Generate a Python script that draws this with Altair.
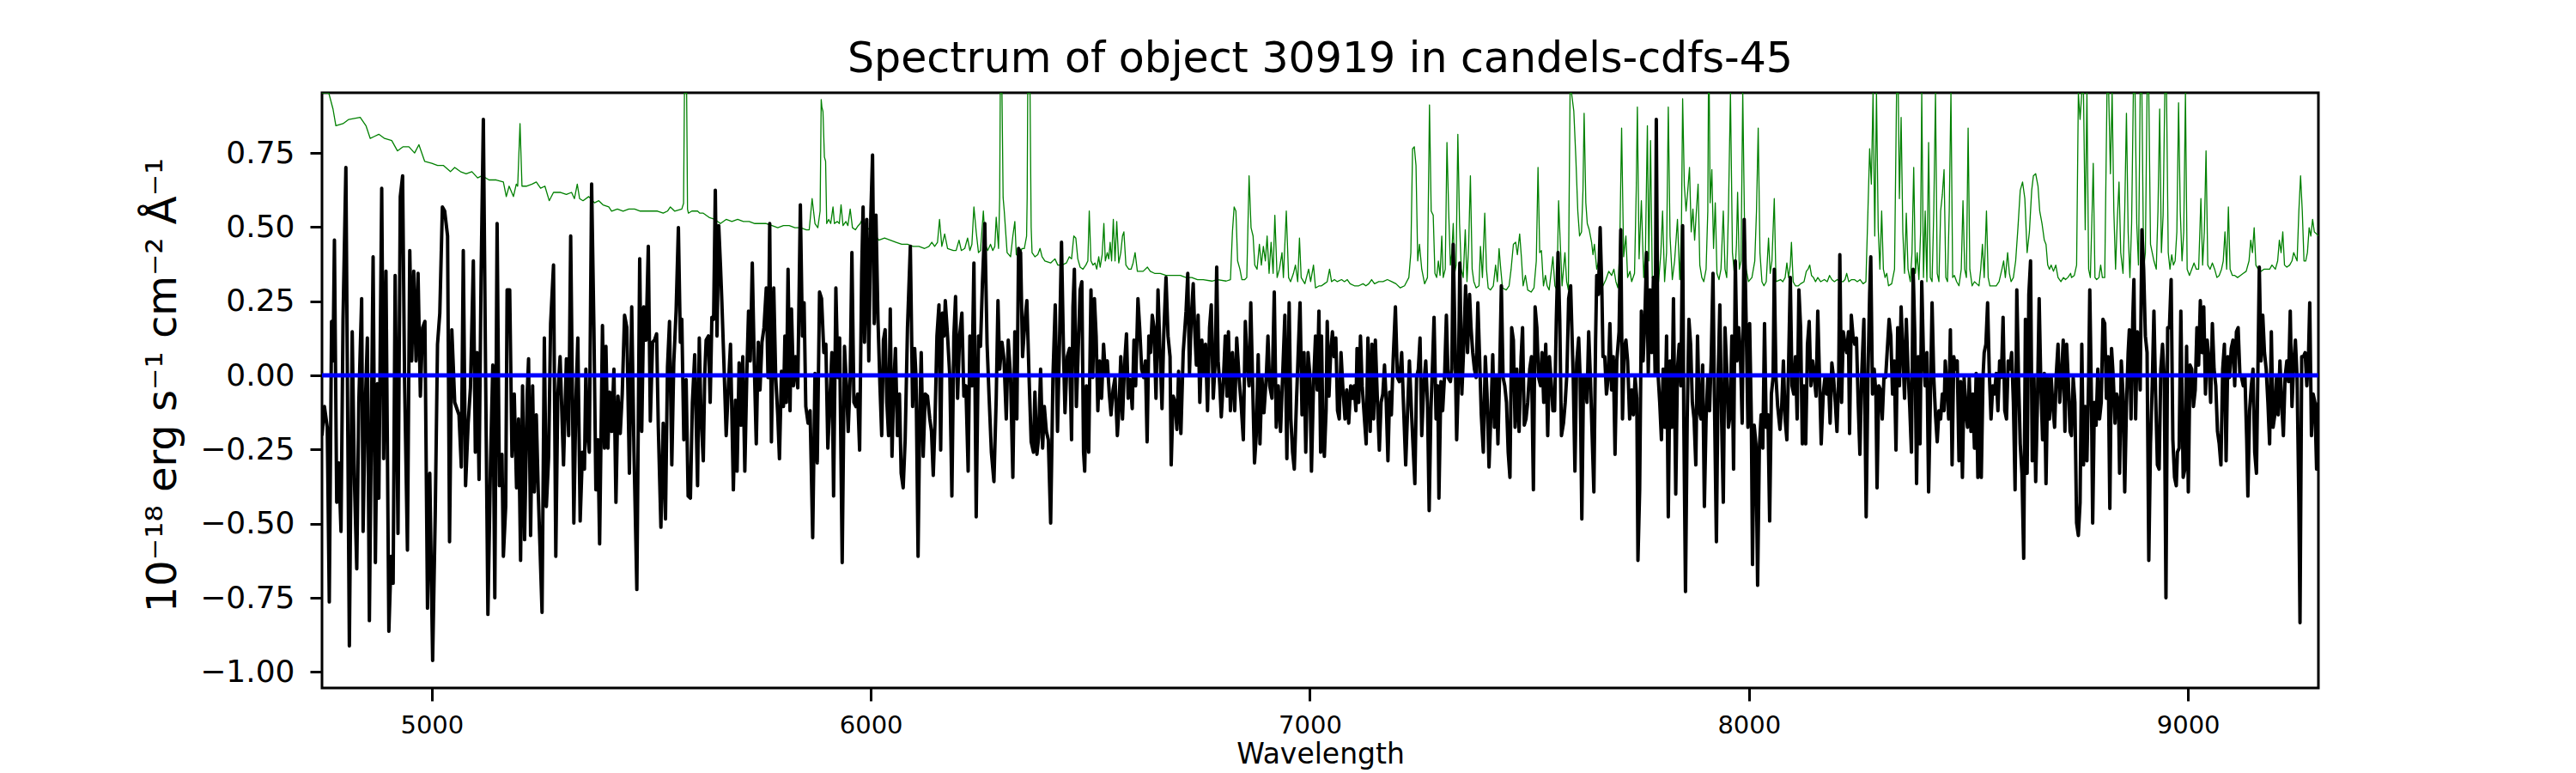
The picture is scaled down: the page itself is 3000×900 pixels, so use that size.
import altair as alt
import pandas as pd

# ---- black: observed spectrum (wavelength [A], flux [1e-18 erg/s/cm2/A]) ----
black_a = [(4750.0,-0.203),(4755.5,-0.105),(4762.0,-0.175),(4766.6,-0.764),(4771.8,0.182),(4775.1,0.049),(4778.3,0.456),(4783.5,-0.428),(4788.1,-0.295),(4793.3,-0.526),
(4797.9,0.189),(4804.4,0.701),(4812.3,-0.912),(4818.8,0.147),(4824.0,-0.365),(4829.2,-0.652),(4833.8,-0.091),(4840.3,0.259),(4843.6,-0.526),(4848.8,-0.091),
(4853.3,0.126),(4857.9,-0.827),(4866.4,0.400),(4871.6,-0.631),(4876.2,-0.028),(4879.4,-0.414),(4886.0,0.631),(4890.5,-0.281),(4895.7,0.351),(4902.3,-0.863),
(4907.5,-0.610),(4912.0,-0.701),(4916.6,0.337),(4923.1,-0.533),(4928.3,0.603),(4933.6,0.673),(4938.1,-0.021),(4944.6,-0.589),(4949.9,0.421),(4954.4,0.049),
(4959.0,0.351),(4964.2,0.049),(4968.8,0.344),(4974.0,-0.070),(4979.2,0.161),(4984.4,0.182),(4990.3,-0.785),(4995.5,-0.330),(5002.0,-0.961),(5007.9,-0.470),
(5013.1,0.105),(5018.3,0.210),(5024.2,0.568),(5029.4,0.554),(5036.0,0.470),(5040.5,-0.561),(5045.7,0.154),(5052.3,-0.091),(5062.0,-0.133),(5067.3,-0.309),
(5071.8,0.421),(5077.0,-0.372),(5082.9,-0.161),(5088.1,-0.042),(5094.7,0.386),(5099.2,-0.259),(5103.1,0.077),(5107.7,-0.351),(5112.3,0.330),(5117.5,0.863),
(5122.7,-0.007),(5127.9,-0.806),(5133.8,-0.295),(5139.0,0.035),(5143.6,-0.750),(5148.8,0.512),(5154.0,-0.372),(5159.9,-0.266),(5163.1,-0.610),(5168.4,-0.442),
(5171.6,0.288),(5177.5,0.288),(5182.7,-0.273),(5187.9,-0.063),(5193.1,-0.379),(5197.7,-0.147),(5202.3,-0.624),(5206.8,-0.035),(5211.4,-0.554),(5217.3,-0.063),
(5220.5,0.056),(5225.1,-0.540),(5229.7,-0.035),(5233.6,-0.393),(5238.1,-0.133),(5242.7,-0.400),(5251.2,-0.799),(5256.4,0.126),(5261.0,-0.442),(5266.2,-0.273),
(5270.7,0.175),(5277.3,0.372),(5282.5,-0.610),(5287.0,-0.070),(5292.3,0.063),(5300.1,-0.302),(5306.6,0.056),(5311.8,-0.203),(5316.4,0.470)]

black_b = [(5323.6,-0.498),(5328.2,-0.091),(5332.7,0.126),(5338.0,-0.491),(5343.2,-0.259),(5347.8,-0.316),(5351.0,0.021),(5354.3,-0.189),(5358.8,-0.259),(5364.1,0.645),
(5369.3,0.161),(5373.8,-0.386),(5378.4,-0.217),(5382.3,-0.568),(5388.8,0.168),(5393.4,-0.245),(5396.7,0.098),(5401.2,-0.245),(5405.1,-0.056),(5409.7,-0.189),
(5414.9,0.021),(5419.5,-0.428),(5424.1,-0.070),(5429.3,-0.196),(5433.8,-0.063),(5439.1,0.203),(5444.3,0.161),(5450.1,-0.330),(5455.4,0.231),(5460.6,-0.259),
(5467.1,-0.722),(5473.6,0.393),(5478.2,-0.189),(5482.8,0.231),(5488.0,0.119),(5493.2,0.435),(5497.8,-0.154),(5503.0,0.112),(5507.5,0.119),(5512.1,0.140),
(5516.0,-0.175),(5521.9,-0.512),(5527.1,-0.161),(5532.3,-0.484),(5536.9,0.028),(5541.5,0.182),(5546.7,-0.302),(5551.2,0.042),(5556.5,0.217),(5561.7,0.498),
(5566.2,0.112),(5569.5,0.189),(5574.1,-0.217),(5579.3,-0.014),(5583.9,-0.407),(5589.1,-0.414),(5593.6,-0.091),(5598.9,0.070),(5605.4,-0.372),(5609.3,0.126),
(5613.2,-0.133),(5618.4,-0.288),(5621.7,0.000),(5624.9,0.119),(5630.2,0.133),(5634.1,-0.091),(5638.0,0.196),(5641.9,0.189),(5645.8,0.624),(5649.7,0.133),
(5653.6,0.505),(5657.5,0.372),(5660.8,0.245),(5665.4,0.042),(5670.6,-0.203),(5675.8,-0.028),(5680.4,0.105),(5686.9,-0.386),(5691.5,-0.084),(5695.4,-0.323),
(5700.0,0.042),(5704.5,-0.168),(5708.4,0.063),(5713.0,-0.323),(5717.6,0.007),(5721.5,0.217),(5725.4,0.049),(5730.0,0.379),(5734.5,0.042),(5739.1,-0.231),
(5743.6,0.112),(5747.6,-0.049),(5752.1,0.112),(5756.7,0.161),(5761.9,0.295),(5765.8,-0.007),(5769.7,0.512),(5773.6,-0.224),(5778.9,0.295),(5783.4,-0.007),
(5788.0,-0.133),(5791.9,-0.281),(5796.5,0.014),(5801.0,-0.105),(5804.3,0.133),(5807.6,-0.091),(5811.5,0.358),(5816.0,-0.119),(5819.3,0.224),(5823.9,-0.035),
(5828.4,0.063),(5833.6,-0.042),(5839.5,0.575),(5844.1,0.133),(5848.0,0.245),(5851.9,-0.105),(5857.1,-0.161),(5861.7,-0.119),(5867.6,-0.547),(5872.8,0.007),
(5878.0,-0.295),(5883.2,0.281)]

black_c = [(5887.8,0.259),(5893.0,0.077),(5897.6,0.105),(5902.1,-0.245),(5907.4,-0.063),(5911.3,0.077),(5915.2,-0.407),(5920.4,0.295),(5925.0,-0.007),(5928.9,0.126),
(5934.8,-0.631),(5940.0,0.098),(5944.5,-0.035),(5948.5,-0.189),(5953.0,-0.007),(5956.9,0.414),(5961.5,-0.091),(5966.1,-0.105),(5970.0,-0.063),(5974.5,-0.252),
(5979.1,0.344),(5982.4,0.568),(5985.6,0.112),(5990.8,0.526),(5995.4,0.049),(6000.0,0.540),(6003.9,0.743),(6007.8,0.175),(6011.7,0.540),(6016.3,0.189),
(6020.8,-0.035),(6024.8,-0.203),(6028.7,0.119),(6032.6,0.154),(6036.5,-0.091),(6040.4,-0.203),(6044.3,0.224),(6048.2,-0.273),(6052.2,-0.035),(6056.1,0.091),
(6060.6,-0.203),(6065.2,-0.063),(6069.1,-0.330),(6073.7,-0.379),(6078.2,-0.217),(6083.5,0.161),(6090.0,0.435),(6095.2,-0.105),(6099.8,0.091),(6103.0,-0.007),
(6107.6,-0.610),(6111.5,-0.133),(6114.8,0.077),(6119.3,-0.273),(6123.9,-0.063),(6129.1,-0.070),(6134.3,-0.147),(6138.2,-0.189),(6142.2,-0.337),(6146.1,-0.161),
(6150.6,0.133),(6155.2,0.238),(6159.1,-0.252),(6163.0,0.210),(6166.9,0.133),(6169.6,0.252),(6174.8,0.133),(6180.0,-0.007),(6184.6,-0.407),(6189.1,0.133),
(6193.0,0.266),(6197.6,-0.077),(6202.2,0.133),(6207.4,0.210),(6211.9,-0.070),(6216.5,-0.035),(6221.7,-0.323),(6225.6,0.133),(6230.2,-0.035),(6234.8,0.379),
(6240.0,-0.477),(6245.2,0.133),(6249.8,0.098),(6254.3,0.316),(6259.6,0.512),(6264.8,0.105),(6269.3,-0.070),(6274.6,-0.259),(6280.4,-0.358),(6285.6,-0.077),
(6289.6,0.252),(6293.5,0.021),(6298.7,0.112),(6303.3,0.056),(6308.5,-0.147),(6313.0,0.119),(6318.3,-0.007),(6323.5,-0.344),(6328.0,0.147),(6332.6,-0.147),
(6336.5,0.428),(6341.1,0.414),(6345.6,0.063),(6350.9,0.182),(6355.4,0.252),(6360.6,-0.014),(6365.2,-0.224),(6370.4,-0.259),(6373.7,-0.056),(6378.3,-0.266),
(6382.2,-0.210),(6386.7,0.021),(6391.3,-0.245),(6395.2,-0.105),(6399.8,-0.189),(6404.3,-0.217),(6409.6,-0.498),(6414.8,-0.007),(6420.0,0.238),(6425.2,-0.189),
(6429.8,0.112),(6434.3,0.449),(6438.9,0.077),(6442.2,-0.126),(6447.4,0.063),(6452.6,0.091),(6457.2,-0.217)]

black_d = [(6460.4,0.231),(6463.6,0.358),(6468.2,-0.105),(6472.8,0.105),(6476.7,0.288),(6480.6,0.316),(6484.5,-0.259),(6487.1,-0.323),(6491.0,-0.035),(6496.2,-0.259),
(6501.4,0.288),(6505.4,-0.007),(6509.3,0.259),(6513.2,0.133),(6517.1,-0.119),(6521.0,0.049),(6525.6,-0.077),(6530.1,0.105),(6534.1,0.007),(6538.6,0.049),
(6543.2,-0.063),(6547.1,-0.133),(6551.7,-0.049),(6556.2,-0.007),(6561.5,-0.203),(6565.4,-0.105),(6569.3,0.063),(6573.2,-0.147),(6577.8,0.035),(6582.3,0.140),
(6586.2,-0.077),(6590.8,-0.014),(6595.4,-0.112),(6599.3,0.119),(6603.2,-0.035),(6608.4,0.259),(6612.3,0.161),(6616.9,0.021),(6621.5,-0.007),(6625.4,0.049),
(6629.3,-0.224),(6633.2,0.133),(6637.1,0.077),(6641.0,0.203),(6645.0,0.161),(6649.5,-0.077),(6654.1,0.288),(6658.0,0.105),(6663.2,-0.112),(6667.1,0.133),
(6672.3,0.330),(6676.9,0.133),(6681.5,0.063),(6684.1,-0.302),(6688.6,-0.070),(6693.2,-0.091),(6697.1,-0.182),(6701.0,0.014),(6706.2,-0.196),(6711.5,0.077),
(6718.0,0.217),(6721.9,0.344),(6725.8,0.007),(6729.7,0.189),(6734.3,0.309),(6737.5,0.161),(6741.5,0.035),(6745.4,0.203),(6749.3,-0.091),(6753.9,0.119),
(6758.4,0.007),(6762.3,0.105),(6766.9,-0.119),(6771.5,0.161),(6775.4,0.238),(6779.9,-0.077),(6784.5,0.049),(6787.8,0.365),(6791.0,0.049),(6794.9,-0.035),
(6798.2,-0.140),(6802.8,-0.021),(6807.3,0.133),(6811.2,-0.070),(6814.5,0.147),(6819.1,-0.119),(6823.6,0.077),(6828.9,-0.119),(6833.4,0.126),(6838.6,-0.007),
(6843.2,-0.091),(6848.4,-0.217),(6853.0,0.182),(6856.9,0.049),(6861.5,-0.035),(6865.4,0.245),(6869.3,-0.007),(6873.9,-0.295),(6877.8,-0.203),(6882.3,0.070),
(6886.3,-0.231),(6890.8,-0.007),(6895.4,-0.126),(6900.6,-0.007),(6904.5,0.133),(6908.4,-0.035),(6913.6,-0.077),(6918.9,0.281),(6923.4,-0.175),(6928.0,-0.035),
(6933.2,-0.189),(6937.8,-0.007),(6943.0,0.203),(6947.6,-0.281),(6952.8,0.245),(6956.7,-0.147),(6960.6,-0.259),(6964.5,-0.316),(6969.7,-0.077),(6973.6,0.084),
(6977.6,0.245),(6982.1,-0.133),(6986.7,0.077),(6990.6,-0.259),(6995.8,0.077),(6999.7,0.007),(7003.6,-0.323),(7008.2,-0.035),(7012.8,0.133),(7016.7,-0.049),
(7020.6,0.217),(7024.5,-0.259)]

black_e = [(7026.5,0.133),(7029.8,-0.189),(7033.0,-0.273),(7036.9,-0.119),(7039.5,0.182),(7043.5,-0.070),(7047.4,0.077),(7051.3,0.147),(7055.2,0.063),(7059.1,0.126),
(7063.0,-0.119),(7066.9,-0.147),(7070.9,0.077),(7075.4,-0.049),(7080.0,-0.147),(7083.9,-0.049),(7088.5,-0.161),(7093.0,-0.035),(7096.9,-0.077),(7100.9,-0.035),
(7104.8,-0.119),(7107.4,0.091),(7111.3,-0.091),(7115.2,0.133),(7119.1,-0.035),(7124.3,-0.147),(7128.2,-0.231),(7132.2,0.126),(7137.4,-0.189),(7141.3,0.105),
(7145.2,-0.147),(7149.1,0.119),(7154.3,-0.105),(7158.2,-0.252),(7162.2,-0.091),(7166.1,-0.063),(7170.0,0.035),(7173.9,-0.091),(7177.8,-0.288),(7181.7,-0.056),
(7185.6,-0.133),(7189.6,0.049),(7194.8,0.231),(7199.3,-0.007),(7203.9,-0.021),(7209.1,0.077),(7213.7,-0.119),(7218.2,-0.302),(7222.2,-0.133),(7226.7,0.049),
(7231.3,-0.119),(7235.2,-0.245),(7239.1,-0.365),(7243.0,-0.007),(7247.0,0.021),(7250.9,0.126),(7254.8,-0.203),(7259.3,-0.035),(7263.9,0.049),(7267.8,-0.091),
(7271.7,-0.456),(7275.6,-0.119),(7279.6,0.049),(7282.8,0.196),(7287.4,-0.147),(7291.3,-0.035),(7293.9,-0.414),(7298.5,-0.021),(7302.4,-0.119),(7307.0,0.007),
(7310.9,0.203),(7314.8,-0.007),(7320.0,-0.021),(7323.3,0.021),(7326.5,0.442),(7330.4,0.133),(7334.3,-0.217),(7338.3,-0.007),(7341.5,0.379),(7346.1,-0.063),
(7350.6,0.105),(7354.6,0.302),(7359.1,0.077),(7363.7,0.273),(7367.0,0.161),(7370.9,0.077),(7374.8,0.021),(7378.7,-0.007),(7382.6,0.245),(7386.5,0.063),
(7390.4,-0.133),(7395.0,-0.259),(7399.6,0.063),(7403.5,-0.063),(7408.0,-0.309),(7412.6,-0.119),(7416.5,0.070),(7420.4,-0.175),(7424.3,-0.007),(7428.3,-0.231),
(7432.2,0.007),(7436.1,0.302),(7440.0,-0.007),(7443.9,-0.035),(7447.8,-0.091),(7451.7,-0.259),(7455.7,-0.344),(7459.6,0.161),(7463.5,0.119),(7467.4,-0.175),
(7471.3,0.021),(7476.5,-0.189),(7481.1,0.063),(7484.4,0.161),(7488.3,-0.168),(7492.2,-0.147),(7496.1,-0.091),(7500.7,0.021),(7504.6,0.063),(7509.1,-0.386),
(7513.0,0.231),(7517.0,0.161),(7520.9,-0.007),(7525.4,-0.035),(7528.7,0.077),(7532.6,-0.091),(7537.2,0.105),(7541.7,-0.203),(7545.6,0.063),(7550.2,-0.035),
(7553.5,-0.119),(7557.4,-0.119),(7561.3,0.189),(7565.2,0.414),(7569.1,0.189),(7573.0,-0.203),(7577.6,-0.161),(7581.5,-0.091),(7585.4,0.007),(7589.4,0.259),
(7593.9,0.302)]

black_f = [(7599.8,-0.007),(7603.7,-0.323),(7607.6,0.042),(7612.2,0.126),(7615.5,-0.007),(7619.4,-0.484),(7623.3,-0.007),(7627.2,-0.007),(7631.1,-0.091),(7635.0,0.147),
(7638.9,-0.007),(7642.9,-0.203),(7646.8,-0.393),(7650.7,0.119),(7653.3,0.337),(7657.2,0.273),(7661.1,0.498),(7665.0,0.288),(7667.6,0.063),(7671.6,0.063),
(7675.5,-0.063),(7679.4,-0.007),(7683.3,0.175),(7687.2,-0.049),(7691.1,0.063),(7695.0,-0.266),(7699.0,0.049),(7704.2,0.147),(7708.1,0.491),(7712.0,-0.147),
(7715.9,0.091),(7719.8,0.119),(7723.7,0.049),(7728.3,-0.147),(7732.9,-0.049),(7736.8,-0.133),(7740.7,-0.007),(7744.6,-0.077),(7747.2,-0.624),(7751.1,-0.386),
(7755.0,0.217),(7759.0,0.049),(7762.9,0.189),(7766.8,0.414),(7770.7,0.007),(7774.6,0.288),(7778.5,0.077),(7782.4,0.330),(7786.3,0.007),(7789.0,0.863),
(7792.9,0.007),(7796.8,-0.091),(7800.7,-0.217),(7804.6,0.021),(7808.5,-0.175),(7812.4,0.133),(7816.3,-0.477),(7820.3,0.049),(7824.2,-0.175),(7828.1,0.259),
(7833.3,-0.400),(7837.2,0.021),(7841.1,0.105),(7845.0,-0.035),(7849.0,0.505),(7851.6,-0.147),(7855.5,-0.729),(7859.4,-0.147),(7863.3,0.189),(7867.2,0.105),
(7871.1,-0.091),(7875.0,-0.147),(7879.0,-0.302),(7882.9,0.133),(7886.8,-0.119),(7890.7,-0.147),(7894.6,0.035),(7898.5,-0.442),(7902.4,-0.147),(7906.3,-0.007),
(7910.3,-0.119),(7914.2,0.063),(7918.1,0.344),(7922.0,-0.147),(7925.9,-0.561),(7929.8,-0.007),(7933.7,0.238),(7937.7,-0.147),(7941.6,-0.428),(7945.5,0.161),
(7949.4,0.021),(7953.3,-0.175),(7957.2,-0.133),(7961.1,0.133),(7965.0,-0.316),(7969.0,0.386),(7972.9,0.049),(7976.8,0.161),(7980.7,0.063),(7984.6,-0.161),
(7989.2,0.526),(7993.7,0.175),(7997.7,-0.175),(8001.6,0.175),(8005.5,-0.147),(8008.1,-0.638),(8012.0,-0.168),(8015.9,-0.231),(8019.8,-0.708),(8023.7,-0.245),
(8027.7,-0.133),(8031.6,-0.245),(8035.5,0.175),(8039.4,-0.175),(8043.3,-0.133),(8047.2,-0.491),(8051.1,-0.063),(8055.0,-0.007),(8057.7,0.358),(8061.6,-0.007),
(8065.5,-0.105),(8070.7,-0.182),(8074.6,-0.105),(8078.5,0.049),(8082.4,-0.147),(8086.4,-0.217),(8090.3,0.035),(8094.2,0.330),(8098.1,-0.035),(8102.0,-0.063),
(8105.9,0.063),(8109.8,-0.147),(8113.8,0.288),(8117.7,0.161),(8121.6,-0.231),(8125.5,-0.035),(8129.4,-0.231),(8133.3,0.105),(8137.2,0.182),(8141.2,-0.035),
(8145.1,0.049),(8149.0,-0.007),(8152.9,-0.070),(8156.8,0.217),(8160.7,-0.007),(8164.6,-0.231)]

black_g = [(8169.2,-0.063),(8173.1,-0.007),(8177.0,-0.063),(8181.0,-0.007),(8184.9,-0.161),(8188.8,0.042),(8192.7,-0.007),(8196.6,-0.091),(8200.5,-0.189),(8204.4,-0.007),
(8207.0,0.407),(8211.0,-0.091),(8214.9,0.147),(8218.8,0.105),(8222.7,0.077),(8226.6,0.147),(8229.2,-0.196),(8233.1,0.203),(8237.0,0.133),(8241.0,0.105),
(8244.9,0.126),(8248.8,-0.091),(8252.7,-0.266),(8256.6,-0.007),(8261.8,0.189),(8267.0,-0.477),(8271.0,-0.007),(8274.9,0.273),(8277.5,0.400),(8281.4,-0.063),
(8285.3,0.021),(8289.2,-0.063),(8291.8,-0.379),(8295.7,-0.035),(8299.7,-0.049),(8303.6,-0.147),(8307.5,-0.007),(8311.4,-0.007),(8319.2,0.189),(8323.1,0.133),
(8327.1,-0.063),(8331.0,0.049),(8334.9,-0.252),(8338.8,0.161),(8342.7,-0.035),(8346.6,0.231),(8350.5,0.077),(8354.4,-0.077),(8358.4,0.189),(8362.3,0.021),
(8366.2,-0.105),(8370.1,-0.259),(8374.0,0.358),(8377.9,0.133),(8381.8,-0.365),(8385.7,0.063),(8389.7,-0.231),(8393.6,0.316),(8397.5,0.063),(8401.4,-0.035),
(8405.3,0.077),(8409.2,-0.393),(8413.1,-0.091),(8417.1,0.245),(8421.0,-0.007),(8424.9,-0.133),(8428.8,-0.224),(8432.7,-0.119),(8436.6,-0.147),(8440.5,-0.063),
(8444.4,-0.119),(8447.1,0.049),(8451.0,-0.035),(8454.9,-0.147),(8458.8,0.154),(8462.7,-0.302),(8466.6,0.063),(8470.5,0.021),(8474.4,0.049),(8478.4,-0.288),
(8482.3,-0.021),(8486.2,-0.344),(8490.1,-0.007),(8494.0,-0.119),(8497.9,-0.175),(8501.8,-0.007),(8505.7,-0.189),(8509.7,-0.063),(8513.6,-0.245),(8517.5,0.007),
(8521.4,-0.344),(8525.3,-0.007),(8529.2,-0.344),(8533.1,-0.007),(8535.8,0.077),(8539.7,0.105),(8543.6,0.245),(8547.5,0.007),(8551.4,-0.147),(8555.3,-0.035),
(8559.2,-0.063),(8563.2,0.007),(8567.1,-0.119),(8571.0,0.049),(8574.9,-0.007),(8578.8,0.196),(8582.7,-0.119),(8586.6,-0.147),(8590.5,0.049),(8594.5,0.021),
(8598.4,0.077),(8602.3,-0.091),(8606.2,-0.386),(8610.1,0.288),(8614.0,-0.007),(8617.9,-0.231),(8621.8,-0.330),(8625.8,-0.617),(8629.7,0.189),(8633.6,-0.330),
(8637.5,0.273),(8641.4,0.386),(8645.3,-0.288),(8649.2,-0.007),(8653.1,-0.358),(8657.1,-0.091),(8661.0,0.259),(8664.9,-0.035),(8668.8,-0.217),(8672.7,0.007),
(8676.6,-0.365),(8680.5,-0.007),(8684.4,-0.147),(8688.4,-0.007),(8692.3,-0.105),(8696.2,-0.175),(8700.1,0.007),(8704.0,0.105),(8707.9,-0.091),(8711.8,-0.007),
(8715.8,0.119),(8719.7,-0.189),(8723.6,0.105),(8727.5,-0.021),(8731.4,-0.189)]

black_h = [(8734.6,-0.203),(8738.5,-0.007),(8742.4,-0.091),(8746.3,-0.498),(8750.3,-0.540),(8754.2,-0.428),(8758.1,0.105),(8762.0,-0.302),(8765.9,-0.105),(8769.8,-0.288),
(8773.7,-0.007),(8776.3,0.288),(8780.3,-0.105),(8782.9,-0.498),(8786.8,-0.091),(8790.7,-0.168),(8794.6,0.021),(8798.5,-0.147),(8802.4,-0.091),(8806.3,0.189),
(8810.3,0.175),(8814.2,-0.077),(8818.1,0.063),(8822.0,-0.449),(8825.9,0.091),(8829.8,-0.007),(8833.7,-0.161),(8837.6,-0.063),(8841.6,-0.091),(8844.2,-0.330),
(8848.1,0.049),(8852.0,-0.063),(8855.9,-0.393),(8859.8,-0.105),(8863.7,0.077),(8866.4,0.154),(8870.3,-0.147),(8874.2,0.189),(8876.8,0.323),(8880.7,-0.147),
(8884.6,0.147),(8888.5,0.063),(8891.1,-0.049),(8895.0,0.491),(8899.0,0.358),(8902.9,0.133),(8906.8,0.077),(8910.7,-0.624),(8914.6,-0.231),(8918.5,-0.035),
(8922.4,0.217),(8926.3,-0.063),(8930.3,-0.302),(8934.2,-0.316),(8938.1,0.021),(8942.0,0.105),(8945.9,-0.007),(8949.8,-0.750),(8953.7,0.161),(8957.7,0.161),
(8961.6,0.323),(8965.5,-0.217),(8969.4,-0.344),(8973.3,-0.372),(8975.9,-0.259),(8979.8,-0.245),(8983.7,0.217),(8989.0,-0.344),(8992.9,-0.316),(8996.8,0.098),
(9000.7,-0.393),(9004.6,0.035),(9008.5,0.021),(9012.4,-0.105),(9016.4,-0.049),(9020.3,0.161),(9024.2,0.035),(9028.1,0.252),(9032.0,0.077),(9035.9,0.231),
(9039.8,-0.063),(9043.7,0.119),(9047.7,0.049),(9051.6,-0.091),(9055.5,0.175),(9059.4,0.021),(9063.3,-0.035),(9067.2,-0.189),(9071.1,-0.231),(9075.0,-0.302),
(9079.0,0.021),(9082.9,0.105),(9086.8,-0.288),(9090.7,0.063),(9094.6,-0.007),(9098.5,0.091),(9102.4,0.119),(9106.4,-0.035),(9110.3,0.147),(9114.2,0.161),
(9118.1,0.007),(9122.0,-0.007),(9125.9,-0.035),(9129.8,-0.007),(9133.7,-0.217),(9136.4,-0.407),(9140.3,-0.119),(9144.2,-0.035),(9148.1,0.021),(9152.0,-0.259),
(9155.9,-0.330),(9159.8,0.077),(9162.4,0.365),(9166.4,0.049),(9170.3,0.203),(9174.2,0.077),(9178.1,0.021),(9182.0,-0.091),(9185.9,-0.231),(9189.8,0.147),
(9193.8,-0.175),(9197.7,-0.133),(9201.6,-0.007),(9205.5,-0.133),(9209.4,0.049),(9213.3,-0.091),(9217.2,-0.203),(9221.1,-0.007),(9225.1,0.049),(9229.0,-0.021),
(9232.9,0.217),(9236.8,-0.105),(9240.7,0.035),(9244.6,0.119),(9248.5,-0.007),(9252.5,-0.428),(9255.1,-0.834),(9259.0,0.063),(9262.9,0.063),(9266.8,0.077),
(9270.7,-0.035),(9274.6,0.077),(9277.3,0.245),(9281.2,-0.203),(9285.1,-0.063),(9289.0,-0.091),(9292.9,-0.316),(9297.0,-0.091)]

# ---- green: noise / sky spectrum ----
green_a = [(4750.0,1.10),(4760.0,1.00),(4765.3,0.954),(4775.1,0.898),(4781.6,0.842),(4797.9,0.849),(4811.0,0.863),(4837.0,0.870),(4850.1,0.842),(4859.9,0.799),
(4869.6,0.806),(4879.4,0.813),(4892.5,0.799),(4908.8,0.792),(4921.8,0.757),(4934.9,0.771),(4947.9,0.771),(4960.9,0.750),(4970.7,0.778),(4983.8,0.722),
(5000.1,0.715),(5013.1,0.708),(5026.2,0.708),(5042.5,0.687),(5052.3,0.701),(5065.3,0.687),(5078.3,0.680),(5091.4,0.687),(5104.4,0.666),(5114.2,0.673),
(5130.5,0.659),(5146.8,0.659),(5163.1,0.652),(5169.7,0.603),(5176.2,0.638),(5186.0,0.603),(5192.5,0.645),(5195.7,0.638),(5201.0,0.849),(5205.5,0.638),
(5215.3,0.638),(5228.4,0.645),(5238.1,0.652),(5247.9,0.631),(5257.7,0.638),(5267.5,0.589),(5277.3,0.617),(5293.6,0.617),(5306.6,0.610),(5318.4,0.617)]

green_b = [(5324.9,0.596),(5331.4,0.645),(5336.7,0.596),(5344.5,0.589),(5357.5,0.603),(5370.6,0.582),(5380.4,0.589),(5390.1,0.575),(5403.2,0.568),(5409.7,0.554),
(5422.8,0.561),(5435.8,0.554),(5448.8,0.561),(5461.9,0.561),(5474.9,0.554),(5494.5,0.554),(5514.1,0.554),(5527.1,0.547),(5536.9,0.554),(5543.4,0.568),
(5553.2,0.554),(5569.5,0.561),(5573.5,0.580),(5575.5,1.40),(5580.5,1.40),(5582.5,0.560),(5584.5,0.547),(5592.3,0.554),(5605.4,0.554),(5610.6,0.547),
(5618.4,0.547),(5631.5,0.533),(5644.5,0.526),(5657.5,0.512),(5670.6,0.526),(5683.6,0.519),(5696.7,0.526),(5709.7,0.519),(5722.8,0.519),(5735.8,0.512),
(5748.9,0.512),(5761.9,0.512),(5775.0,0.505),(5788.0,0.498),(5801.0,0.505),(5814.1,0.505),(5827.1,0.498),(5840.2,0.498),(5853.2,0.491),(5859.7,0.491),
(5866.3,0.596),(5872.8,0.512),(5879.3,0.498),(5884.5,0.554),(5887.0,0.930),(5888.5,0.905),(5891.0,0.890),(5894.3,0.736),(5897.0,0.722),(5899.5,0.512)]

green_c = [(5904.1,0.526),(5908.7,0.512),(5913.9,0.568),(5917.1,0.512),(5923.7,0.519),(5928.2,0.512),(5932.2,0.575),(5936.7,0.505),(5943.2,0.519),(5947.8,0.505),
(5953.0,0.561),(5958.2,0.498),(5964.8,0.491),(5971.3,0.505),(5975.8,0.512),(5980.4,0.526),(5985.6,0.498),(5992.2,0.498),(6001.9,0.484),(6011.7,0.470),
(6018.2,0.456),(6031.3,0.463),(6044.3,0.456),(6057.4,0.449),(6070.4,0.442),(6083.5,0.442),(6096.5,0.435),(6109.5,0.435),(6122.6,0.428),(6132.4,0.435),
(6138.9,0.449),(6145.4,0.435),(6151.9,0.449),(6156.5,0.526),(6161.7,0.435),(6168.2,0.477),(6174.8,0.428),(6187.8,0.421),(6194.3,0.421),(6200.9,0.456),
(6206.1,0.421),(6213.9,0.428),(6220.4,0.463),(6225.6,0.421),(6230.2,0.442),(6234.8,0.568),(6240.0,0.484),(6245.2,0.414),(6249.8,0.421),(6256.3,0.554),
(6260.9,0.442),(6266.1,0.421),(6272.6,0.442),(6277.8,0.421),(6282.4,0.435),(6285.6,0.533),(6290.9,0.428),(6293.5,0.600),(6294.8,1.40),(6298.7,1.40),
(6301.3,0.600),(6303.9,0.554),(6310.4,0.414),(6318.3,0.400),(6323.5,0.470),(6328.0,0.519),(6331.3,0.407),(6337.8,0.400),(6344.3,0.428),(6349.6,0.428),
(6354.8,0.470),(6356.1,0.600),(6357.4,1.40),(6362.6,1.40),(6365.2,0.500),(6367.2,0.414),(6373.7,0.400),(6380.2,0.407),(6385.4,0.428),(6390.0,0.400),
(6396.5,0.386),(6409.6,0.379),(6419.3,0.393),(6425.9,0.372),(6435.6,0.372),(6445.4,0.379),(6452.0,0.400),(6457.2,0.393)]

green_d = [(6462.3,0.470),(6466.9,0.463),(6471.4,0.393),(6476.7,0.365),(6483.2,0.358),(6489.7,0.372),(6494.3,0.386),(6497.5,0.554),(6501.4,0.386),(6506.0,0.372),
(6510.6,0.379),(6514.5,0.358),(6519.1,0.400),(6522.3,0.365),(6526.9,0.407),(6530.8,0.512),(6534.1,0.386),(6538.6,0.414),(6541.9,0.393),(6545.1,0.449),
(6548.4,0.386),(6552.3,0.526),(6556.2,0.386),(6560.1,0.519),(6564.7,0.379),(6569.3,0.414),(6573.2,0.470),(6576.4,0.484),(6581.0,0.372),(6587.5,0.358),
(6592.8,0.358),(6597.3,0.379),(6601.9,0.414),(6607.1,0.351),(6620.2,0.351),(6630.0,0.365),(6636.5,0.351),(6646.2,0.344),(6659.3,0.344),(6672.3,0.337),
(6685.4,0.337),(6705.0,0.337),(6718.0,0.330),(6731.0,0.330),(6744.1,0.323),(6757.1,0.323),(6776.7,0.318),(6789.7,0.323),(6809.3,0.318),(6819.1,0.323),
(6823.6,0.484),(6827.5,0.568),(6831.5,0.554),(6835.4,0.386),(6840.6,0.358),(6845.2,0.323),(6851.7,0.323),(6856.3,0.330),(6861.5,0.673),(6866.0,0.498),
(6870.6,0.470),(6874.5,0.372),(6879.7,0.358),(6885.0,0.442),(6889.5,0.372),(6894.1,0.435),(6898.6,0.386),(6902.6,0.470),(6907.1,0.344),(6911.7,0.449),
(6916.3,0.344),(6920.2,0.540),(6925.4,0.330),(6930.6,0.358),(6936.5,0.414),(6939.7,0.330),(6946.3,0.554),(6951.5,0.330),(6956.0,0.316),(6962.6,0.344),
(6967.1,0.372),(6972.3,0.316),(6976.3,0.463),(6980.2,0.330),(6988.6,0.309),(6997.1,0.358),(7001.7,0.316),(7008.2,0.372),(7012.8,0.295),(7021.3,0.302),
(7026.5,0.302)]

green_e = [(7033.0,0.309),(7039.5,0.316),(7044.8,0.358),(7049.3,0.316),(7055.9,0.323),(7062.4,0.316),(7072.2,0.323),(7078.7,0.316),(7085.2,0.323),(7091.7,0.309),
(7101.5,0.302),(7111.3,0.302),(7121.1,0.309),(7127.6,0.302),(7134.1,0.309),(7140.6,0.323),(7147.2,0.309),(7156.9,0.316),(7166.7,0.316),(7176.5,0.323),
(7186.3,0.316),(7196.1,0.309),(7205.9,0.295),(7215.6,0.302),(7225.4,0.330),(7230.0,0.414),(7233.9,0.764),(7237.8,0.771),(7241.7,0.708),(7245.6,0.386),
(7249.6,0.442),(7254.8,0.358),(7261.3,0.309),(7267.8,0.330),(7272.4,0.912),(7276.3,0.554),(7280.9,0.540),(7284.8,0.344),(7288.7,0.330),(7292.6,0.386),
(7296.5,0.337),(7300.4,0.470),(7303.7,0.330),(7308.3,0.358),(7312.2,0.785),(7316.1,0.554),(7320.0,0.372),(7323.3,0.414),(7326.5,0.512),(7329.8,0.344),
(7333.0,0.372),(7337.0,0.813),(7340.9,0.512),(7344.8,0.358),(7349.3,0.330),(7353.9,0.491),(7357.8,0.316),(7361.7,0.442),(7365.6,0.673),(7369.6,0.358),
(7373.5,0.316),(7378.7,0.295),(7385.2,0.302),(7388.5,0.435),(7393.0,0.330),(7398.3,0.547),(7402.2,0.358),(7406.1,0.295),(7411.3,0.288),(7417.8,0.302),
(7423.0,0.372),(7427.0,0.316),(7430.9,0.428),(7434.8,0.358),(7438.7,0.295),(7447.2,0.288),(7453.7,0.302),(7458.3,0.358),(7463.5,0.442),(7468.7,0.449),
(7472.6,0.407),(7477.8,0.477),(7481.7,0.400),(7485.7,0.302),(7490.9,0.337),(7496.1,0.288),(7503.9,0.281),(7510.4,0.295),(7515.7,0.386),(7519.6,0.701),
(7523.5,0.414),(7527.4,0.421),(7532.0,0.302),(7536.5,0.337),(7540.4,0.302),(7545.0,0.288),(7553.5,0.400),(7558.0,0.302),(7562.6,0.288),(7566.5,0.589),
(7570.4,0.442),(7574.4,0.302),(7580.9,0.414),(7584.8,0.316),(7588.7,0.288),(7592.6,1.30)]

green_f = [(7595.9,1.30),(7601.1,0.891),(7605.7,0.736),(7610.2,0.554),(7614.2,0.470),(7618.7,0.484),(7622.0,0.624),(7624.6,0.884),(7628.5,0.582),(7631.8,0.512),
(7636.3,0.491),(7641.6,0.449),(7644.8,0.407),(7648.1,0.442),(7653.3,0.358),(7657.9,0.386),(7661.1,0.330),(7667.6,0.302),(7674.2,0.323),(7680.7,0.351),
(7687.2,0.337),(7692.4,0.358),(7697.0,0.316),(7701.6,0.295),(7705.5,0.414),(7710.0,0.834),(7714.6,0.400),(7719.8,0.470),(7723.7,0.330),(7729.0,0.351),
(7732.9,0.316),(7739.4,0.344),(7743.3,0.624),(7745.9,0.905),(7749.8,0.393),(7755.0,0.589),(7760.3,0.330),(7764.2,0.414),(7768.7,0.842),(7772.0,0.386),
(7775.9,0.792),(7779.8,0.330),(7785.0,0.309),(7789.0,0.386),(7794.2,0.316),(7799.4,0.414),(7803.3,0.554),(7807.9,0.316),(7812.4,0.414),(7816.3,0.905),
(7820.3,0.470),(7825.5,0.323),(7830.7,0.386),(7837.2,0.526),(7842.4,0.323),(7846.3,0.505),(7849.0,0.933),(7852.9,0.638),(7856.8,0.554),(7860.7,0.624),
(7864.6,0.701),(7868.5,0.484),(7872.4,0.561),(7876.3,0.456),(7880.3,0.554),(7884.2,0.645),(7888.1,0.372),(7892.7,0.330),(7897.2,0.316),(7902.4,0.358),
(7906.3,0.554),(7907.7,1.30),(7909.6,1.30),(7911.6,0.582),(7915.5,0.694),(7919.4,0.428),(7923.3,0.582),(7927.2,0.344),(7931.8,0.323),(7936.3,0.358),
(7941.6,0.554),(7945.5,0.358),(7949.4,0.330),(7953.3,0.554),(7957.9,1.30),(7962.4,0.414),(7967.7,0.330),(7971.6,0.442),(7974.2,0.617),(7978.1,0.358),
(7982.0,0.386),(7985.9,1.30),(7989.8,0.526),(7993.7,0.358),(7999.0,0.316),(8006.8,0.330),(8013.3,0.386),(8017.2,0.554),(8021.1,0.834),(8025.1,0.414),
(8029.6,0.316),(8034.2,0.302),(8039.4,0.316),(8044.6,0.463),(8048.5,0.344),(8052.4,0.386),(8057.7,0.596),(8061.6,0.316),(8072.0,0.323),(8077.2,0.316),
(8082.4,0.330),(8086.4,0.379),(8090.3,0.330),(8094.2,0.372),(8096.8,0.449),(8100.7,0.316),(8105.9,0.302),(8112.5,0.302),(8117.7,0.309),(8125.5,0.316),
(8130.7,0.351),(8134.6,0.358),(8138.5,0.372),(8142.5,0.337),(8147.0,0.330),(8151.6,0.316),(8156.8,0.330),(8163.3,0.316)]

green_g = [(8171.8,0.323),(8178.3,0.316),(8183.6,0.337),(8188.8,0.323),(8194.6,0.316),(8201.2,0.323),(8207.7,0.316),(8214.2,0.316),(8218.8,0.323),(8222.7,0.344),
(8227.3,0.316),(8233.8,0.323),(8240.3,0.323),(8246.8,0.316),(8253.3,0.323),(8259.9,0.309),(8266.4,0.316),(8271.0,0.554),(8274.9,0.764),(8278.8,0.645),
(8282.7,1.30),(8286.6,0.470),(8290.5,1.30),(8294.4,0.498),(8298.3,0.358),(8302.3,0.554),(8306.2,0.358),(8310.1,0.330),(8314.0,0.344),(8317.9,0.302),
(8325.1,0.309),(8331.6,0.358),(8336.2,1.30),(8340.1,1.30),(8342.7,0.596),(8346.6,0.870),(8350.5,0.484),(8354.4,0.344),(8358.4,0.547),(8362.3,0.358),
(8367.5,0.316),(8371.4,0.414),(8375.3,0.701),(8379.2,0.344),(8383.1,0.414),(8387.1,0.323),(8391.0,0.484),(8393.6,1.30),(8397.5,0.330),(8401.4,0.554),
(8405.3,0.316),(8409.2,0.785),(8413.1,0.330),(8417.1,0.316),(8421.0,0.554),(8424.9,1.30),(8428.8,0.344),(8432.7,0.316),(8436.6,0.554),(8440.5,0.610),
(8444.4,0.694),(8448.4,0.330),(8452.3,0.316),(8456.2,0.554),(8460.1,1.30),(8464.0,0.330),(8467.9,0.337),(8473.1,0.316),(8478.4,0.302),(8483.6,0.358),
(8487.5,0.589),(8491.4,0.358),(8495.3,0.330),(8499.2,0.834),(8503.1,0.358),(8508.4,0.302),(8513.6,0.316),(8518.8,0.309),(8524.0,0.302),(8527.9,0.358),
(8531.8,0.442),(8535.8,0.330),(8541.0,0.554),(8544.9,0.330),(8548.8,0.302),(8556.6,0.302),(8563.2,0.302),(8569.7,0.316),(8576.2,0.358),(8580.1,0.386),
(8584.0,0.330),(8589.2,0.414),(8593.2,0.344),(8597.1,0.316),(8602.3,0.330),(8607.5,0.386),(8612.7,0.498),(8617.9,0.624),(8623.2,0.652),(8628.4,0.596),
(8633.6,0.414),(8638.8,0.484),(8644.0,0.624),(8647.9,0.673),(8653.1,0.680),(8658.4,0.638),(8662.3,0.554),(8667.5,0.512),(8672.7,0.456),(8676.6,0.442),
(8680.5,0.372),(8684.4,0.358),(8688.4,0.372),(8693.6,0.351),(8698.8,0.372),(8704.0,0.330),(8710.5,0.316),(8716.4,0.330),(8721.0,0.323),(8726.2,0.330),
(8732.7,0.344)]

green_h = [(8734.6,0.330),(8741.1,0.337),(8746.3,0.372),(8750.3,1.30),(8754.2,0.863),(8758.1,1.30),(8762.0,1.30),(8765.9,0.491),(8769.8,1.30),(8773.7,0.358),
(8777.6,0.330),(8781.6,0.554),(8784.2,0.715),(8788.1,0.330),(8792.0,0.323),(8797.2,0.330),(8801.1,0.372),(8805.0,0.330),(8810.3,0.330),(8815.5,1.30),
(8819.4,1.30),(8823.3,0.680),(8827.2,1.30),(8831.1,0.554),(8835.0,0.358),(8839.0,0.526),(8842.9,0.652),(8846.8,0.414),(8852.0,0.344),(8855.9,0.554),
(8859.8,0.884),(8863.7,0.484),(8867.7,0.330),(8871.6,0.512),(8875.5,1.30),(8879.4,1.30),(8883.3,0.512),(8887.2,0.372),(8891.1,1.30),(8895.0,1.30),
(8899.0,0.358),(8902.9,0.414),(8906.8,1.30),(8910.7,1.30),(8914.6,0.442),(8918.5,0.414),(8922.4,0.386),(8927.7,0.358),(8931.6,0.554),(8935.5,0.898),
(8939.4,0.414),(8943.3,0.540),(8947.2,1.30),(8951.1,1.30),(8955.0,0.414),(8959.0,0.358),(8962.9,0.407),(8966.8,0.372),(8970.7,0.386),(8974.6,0.484),
(8978.5,0.919),(8982.4,0.554),(8986.4,0.386),(8990.3,0.484),(8994.2,1.30),(8998.1,0.358),(9003.3,0.337),(9008.5,0.358),(9013.7,0.379),(9019.0,0.358),
(9024.2,0.358),(9029.4,0.596),(9033.3,0.372),(9037.2,0.484),(9041.1,0.757),(9045.0,0.372),(9050.3,0.358),(9055.5,0.379),(9060.7,0.358),(9065.9,0.330),
(9071.1,0.337),(9076.4,0.358),(9080.3,0.386),(9084.2,0.484),(9088.1,0.358),(9092.0,0.568),(9095.9,0.358),(9101.1,0.337),(9106.4,0.337),(9112.9,0.330),
(9119.4,0.337),(9125.9,0.344),(9132.5,0.351),(9139.0,0.386),(9142.9,0.456),(9146.8,0.414),(9150.7,0.498),(9154.6,0.372),(9159.8,0.358),(9166.4,0.351),
(9172.9,0.358),(9179.4,0.358),(9185.9,0.358),(9191.2,0.372),(9199.0,0.358),(9204.2,0.386),(9208.1,0.456),(9212.0,0.414),(9215.9,0.484),(9219.8,0.372),
(9225.1,0.365),(9231.6,0.372),(9236.8,0.386),(9240.7,0.414),(9244.6,0.400),(9248.5,0.386),(9252.5,0.554),(9256.4,0.673),(9260.3,0.554),(9264.2,0.386),
(9268.1,0.386),(9272.0,0.414),(9275.9,0.498),(9279.8,0.470),(9283.8,0.526),(9287.7,0.484),(9292.9,0.477),(9297.0,0.470)]

# ---- blue: zero level ----
zero_line = [(4750.0, 0.0), (9297.0, 0.0)]

x_ticks = [5000, 6000, 7000, 8000, 9000]
y_ticks = [-1.0, -0.75, -0.5, -0.25, 0.0, 0.25, 0.5, 0.75]
x_domain = [4750.0, 9297.0]
y_domain = [-1.054, 0.953]

title_text = "Spectrum of object 30919 in candels-cdfs-45"
x_title = "Wavelength"
y_title = "10\u207b\u00b9\u2078 erg s\u207b\u00b9 cm\u207b\u00b2 \u00c5\u207b\u00b9"

FONT = "DejaVu Sans"


def frame(pairs, name):
    return pd.DataFrame({"wave": [p[0] for p in pairs],
                         "flux": [p[1] for p in pairs],
                         "series": name})


black = frame(black_a + black_b + black_c + black_d + black_e + black_f + black_g + black_h, "spectrum")
green = frame(green_a + green_b + green_c + green_d + green_e + green_f + green_g + green_h, "noise")
blue = frame(zero_line, "zero")

x_enc = alt.X("wave:Q",
              scale=alt.Scale(domain=x_domain, nice=False, zero=False, clamp=True),
              axis=alt.Axis(values=x_ticks, format="d", title=x_title, grid=False,
                            labelFontSize=29, labelFont=FONT, labelColor="black",
                            labelPadding=14, tickSize=15, tickWidth=3, tickColor="black",
                            domain=False, titleFontSize=33, titleFont=FONT,
                            titleFontWeight="normal", titleColor="black",
                            titleBaseline="alphabetic", titleY=87))
y_enc = alt.Y("flux:Q",
              scale=alt.Scale(domain=y_domain, nice=False, zero=False, clamp=True),
              axis=alt.Axis(values=y_ticks, format=".2f", title=y_title, grid=False,
                            labelFontSize=36, labelFont=FONT, labelColor="black",
                            labelPadding=18, tickSize=14, tickWidth=3, tickColor="black",
                            domain=False, titleFontSize=48, titleFont=FONT,
                            titleFontWeight="normal", titleColor="black",
                            titleBaseline="alphabetic", titleX=-171, titleY=340,
                            titleAlign="center", titleAngle=270))

green_layer = alt.Chart(green).mark_line(color="#008000", strokeWidth=1.3, clip=True,
                                         strokeJoin="round").encode(x=x_enc, y=y_enc)
black_layer = alt.Chart(black).mark_line(color="black", strokeWidth=4, clip=True,
                                         strokeJoin="round").encode(x=x_enc, y=y_enc)
blue_layer = alt.Chart(blue).mark_line(color="#0000ff", strokeWidth=5, clip=True).encode(x=x_enc, y=y_enc)

chart = alt.layer(green_layer, black_layer, blue_layer).properties(
    width=2325, height=693,
    background="white",
    autosize=alt.AutoSizeParams(type="none"),
    padding={"left": 367, "top": 100, "right": 280, "bottom": 99},
    title=alt.TitleParams(text=title_text, fontSize=49, font=FONT, fontWeight="normal",
                          color="black", anchor="middle", frame="group",
                          baseline="alphabetic", offset=25, dy=50),
).configure_view(stroke="black", strokeWidth=3)

chart.save("out.html", embed_options={"renderer": "svg", "actions": False})
